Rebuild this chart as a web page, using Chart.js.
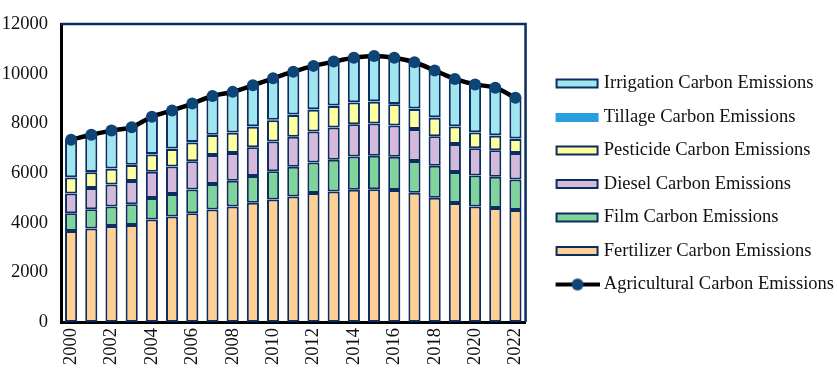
<!DOCTYPE html>
<html>
<head>
<meta charset="utf-8">
<script src="https://cdn.jsdelivr.net/npm/chart.js@4.4.1/dist/chart.umd.min.js"></script>
<style>
  html, body { margin: 0; padding: 0; background: #fff; }
  #wrap { width: 837px; height: 371px; }
</style>
</head>
<body>
<div id="wrap"><canvas id="chart" width="837" height="371"></canvas></div>
<script>
// data
const years = ['2000','2001','2002','2003','2004','2005','2006','2007','2008','2009','2010','2011',
  '2012','2013','2014','2015','2016','2017','2018','2019','2020','2021','2022'];
const fertilizer = [3665,3770,3865,3911,4127,4248,4380,4533,4648,4806,4933,5060,5200,5257,5327,5352,5321,5206,5010,4793,4654,4597,4515];
const film = [715,776,783,832,863,907,954,1023,1041,1079,1137,1194,1225,1283,1339,1340,1339,1283,1288,1251,1251,1251,1225];
const diesel = [801,854,889,933,1067,1105,1142,1174,1117,1156,1200,1213,1251,1295,1296,1308,1257,1282,1188,1131,1092,1072,1066];
const pesticide = [639,630,634,648,693,710,756,800,814,829,857,876,874,865,876,876,851,813,743,698,635,585,566];
const tillage = [14,14,15,15,15,15,16,16,16,16,17,17,17,17,17,17,17,16,16,16,15,15,15];
const irrigation = [1511,1499,1524,1509,1502,1536,1552,1559,1634,1651,1672,1723,1750,1772,1786,1824,1863,1863,1888,1901,1921,1920,1642];
const total = [7345,7543,7710,7848,8267,8521,8800,9105,9270,9537,9816,10083,10317,10489,10641,10717,10648,10463,10133,9790,9568,9440,9029];
const yTicks = [0,2000,4000,6000,8000,10000,12000];

const navy = '#0b2d5f';
const dotColor = '#0f4477';
const serif = "'Liberation Serif', 'Times New Roman', serif";

// legend swatches (box sits right next to the text like in the original)
const BOX_W = 54;
function swatch(fill, stroke) {
  const c = document.createElement('canvas');
  c.width = 64; c.height = 14;
  const ctx = c.getContext('2d');
  ctx.fillStyle = fill;
  if (stroke) {
    ctx.fillRect(21, 3, 41, 8);
    ctx.strokeStyle = stroke;
    ctx.lineWidth = 2;
    ctx.strokeRect(21, 3, 41, 8);
  } else {
    ctx.fillRect(20, 3, 43, 9);
  }
  return c;
}
function lineSwatch() {
  const c = document.createElement('canvas');
  c.width = 64; c.height = 14;
  const ctx = c.getContext('2d');
  ctx.strokeStyle = '#000';
  ctx.lineWidth = 4;
  ctx.beginPath();
  ctx.moveTo(20, 7);
  ctx.lineTo(64, 7);
  ctx.stroke();
  ctx.fillStyle = dotColor;
  ctx.beginPath();
  ctx.arc(42, 7, 6, 0, Math.PI * 2);
  ctx.fill();
  return c;
}

function bar(label, data, color, border) {
  return {
    type: 'bar',
    label: label,
    data: data,
    backgroundColor: color,
    borderColor: border ? navy : color,
    borderWidth: border ? 2 : 0,
    borderSkipped: false,
    barPercentage: 0.6,
    categoryPercentage: 1,
    stack: 'parts',
    order: 1
  };
}

const datasets = [
  bar('Fertilizer Carbon Emissions', fertilizer, '#ffcf94', true),
  bar('Film Carbon Emissions', film, '#7fd49a', true),
  bar('Diesel Carbon Emissions', diesel, '#d5b9da', true),
  bar('Pesticide Carbon Emissions', pesticide, '#ffff9e', true),
  bar('Tillage Carbon Emissions', tillage, '#2a9fe0', false),
  bar('Irrigation Carbon Emissions', irrigation, '#a0e6f0', true),
  {
    type: 'line',
    label: 'Agricultural Carbon Emissions',
    data: total,
    borderColor: '#000',
    borderWidth: 4.5,
    tension: 0.3,
    pointRadius: 6,
    pointBorderWidth: 0,
    pointBackgroundColor: dotColor,
    stack: 'total',
    order: 0
  }
];

const swatches = [
  swatch('#ffcf94', navy), swatch('#7fd49a', navy), swatch('#d5b9da', navy),
  swatch('#ffff9e', navy), swatch('#2a9fe0', null), swatch('#a0e6f0', navy), lineSwatch()
];
const legendRank = [5, 4, 3, 2, 1, 0, 6];

// navy frame on top and right of the plot
const framePlugin = {
  id: 'frame',
  afterLayout(chart) {
    // nudge the legend block up a little
    chart.legend.top -= 5;
    chart.legend.bottom -= 5;
  },
  afterDraw(chart) {
    const {ctx, chartArea: a} = chart;
    ctx.save();
    ctx.strokeStyle = navy;
    ctx.lineWidth = 2.5;
    ctx.beginPath();
    ctx.moveTo(a.left, a.top);
    ctx.lineTo(a.right, a.top);
    ctx.lineTo(a.right, a.bottom);
    ctx.stroke();
    ctx.restore();
  }
};

new Chart(document.getElementById('chart'), {
  data: { labels: years, datasets: datasets },
  plugins: [framePlugin],
  options: {
    responsive: false,
    animation: false,
    layout: { autoPadding: false, padding: { top: 7, right: -7, bottom: 0, left: 0 } },
    plugins: {
      tooltip: { enabled: false },
      legend: {
        position: 'right',
        align: 'center',
        maxWidth: 330,
        labels: {
          usePointStyle: true,
          pointStyleWidth: BOX_W,
          padding: 15,
          color: '#111',
          font: { family: serif, size: 18.5 },
          generateLabels: chart => {
            const items = Chart.defaults.plugins.legend.labels.generateLabels(chart);
            items.forEach(it => { it.pointStyle = swatches[it.datasetIndex]; });
            return items;
          },
          sort: (a, b) => legendRank[a.datasetIndex] - legendRank[b.datasetIndex]
        }
      }
    },
    scales: {
      x: {
        stacked: true,
        grid: { display: false, drawTicks: false },
        border: { display: true, color: '#000', width: 3 },
        ticks: {
          autoSkip: false,
          maxRotation: 90,
          minRotation: 90,
          padding: 6,
          color: '#111',
          font: { family: serif, size: 18.5 },
          callback: (v, i) => (i % 2 === 0 ? years[i] : '')
        },
        afterFit: s => { s.height = 49; }
      },
      y: {
        stacked: true,
        min: 0,
        max: 12000,
        grid: { display: false, drawTicks: false },
        border: { display: true, color: '#000', width: 3 },
        afterBuildTicks: s => { s.ticks = yTicks.map(v => ({ value: v })); },
        ticks: {
          padding: 13,
          color: '#111',
          font: { family: serif, size: 18.5 },
          callback: v => String(v)
        },
        afterFit: s => { s.width = 61; }
      }
    }
  }
});
</script>
</body>
</html>
